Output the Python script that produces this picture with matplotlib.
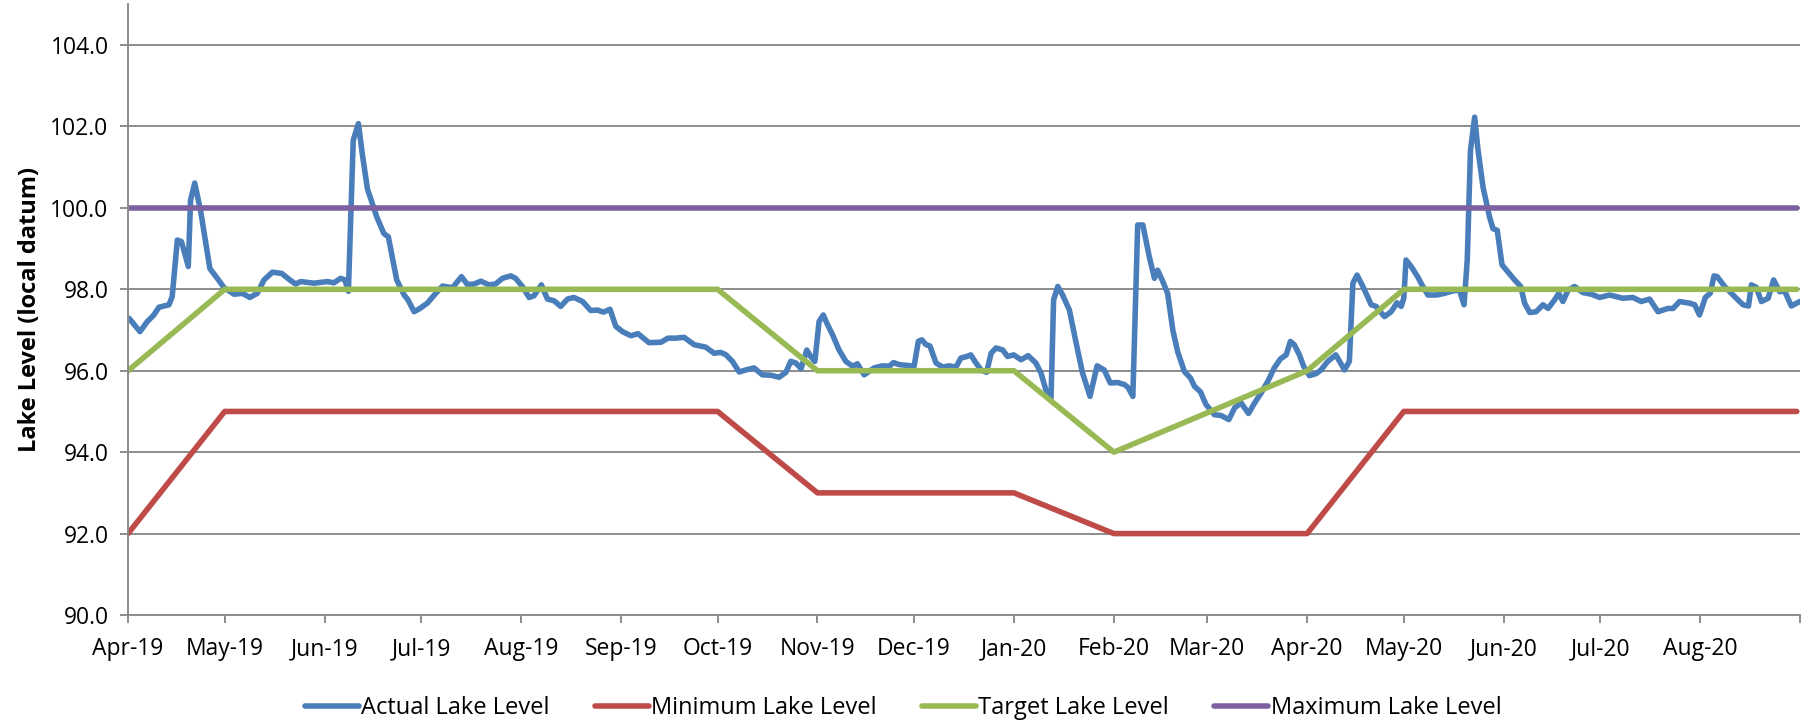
import matplotlib
matplotlib.use("Agg")
import matplotlib.pyplot as plt
import numpy as np
import pandas as pd

# ---- data ----
start = pd.Timestamp("2019-04-01")

# actual level: day offset from 1 Apr 2019, level
actual_day = [
    0.3, 3.7, 6.0, 8.0, 9.6, 12.7, 13.7, 15.3, 16.6, 18.7, 19.4, 20.7, 22.5, 25.4, 27.7, 29.8,
    32.9, 35.5, 37.8, 40.1, 42.2, 44.8, 47.7, 49.9, 52.0, 53.6, 57.7, 61.9, 63.9, 66.0, 67.3,
    68.4, 69.9, 71.5, 72.7, 74.3, 77.2, 79.4, 80.8, 83.4, 85.7, 86.9, 88.8, 90.6,
    92.9, 95.5, 97.6, 100.7, 103.5, 105.3, 107.4, 109.5, 112.0, 114.1, 116.2, 118.8, 120.3,
    122.4, 124.5, 126.0, 128.3, 130.2, 132.2, 134.3, 136.4, 138.4, 141.1, 143.6, 145.7, 147.6,
    149.6, 151.4, 153.5, 156.1, 158.3, 161.7, 165.4, 167.6, 170.0, 172.6, 175.7, 179.3, 181.9, 184.0,
    185.6, 187.6, 189.7, 191.8, 194.3, 196.9, 199.5, 202.1, 204.2, 205.7, 207.3, 208.9, 210.7,
    211.9, 213.2, 214.5, 215.8, 216.9, 218.7, 220.7, 222.8, 224.9, 226.4, 228.5, 231.6, 234.2,
    236.3, 237.6, 239.4, 242.0, 244.0, 245.3, 246.4, 247.7, 248.9, 250.8, 252.9, 254.9, 257.0,
    258.5, 260.4, 261.6, 263.2, 264.8, 266.5, 267.9, 269.4, 271.5, 273.0, 274.9, 277.2,
    279.4, 281.8, 283.4, 284.9, 286.5, 287.3, 288.6, 290.1, 292.2, 294.3, 296.3, 298.6, 300.8,
    303.0, 304.9, 307.2, 309.3, 310.5, 311.9, 313.4, 315.0, 317.0, 318.6, 319.6, 321.2, 322.7,
    324.3, 325.8, 327.9, 329.8, 331.0, 332.9, 334.6, 337.2, 339.3, 341.7, 343.5, 345.5, 347.8,
    349.7, 351.7, 353.8, 355.8, 357.7, 359.5, 360.8, 362.0, 363.6, 364.9, 366.7, 368.8, 370.3,
    372.4, 374.9, 377.6, 379.1, 380.2, 381.5, 383.3, 385.9, 387.4, 390.0, 392.1, 393.9, 395.2,
    396.0, 396.7, 398.3, 400.3, 401.9, 403.5, 406.1, 408.6, 411.2, 413.3, 414.7, 415.7, 416.7,
    418.0, 419.0, 420.6, 422.6, 423.7, 425.0, 426.5, 428.3, 430.4, 432.3, 433.5, 435.1, 437.1,
    439.2, 440.8, 442.8, 444.1, 445.4,
    447.0, 449.0, 451.6, 454.2, 456.8, 459.9, 464.0, 467.1, 469.7, 472.3, 474.9, 478.0, 479.6,
    481.6, 484.7, 486.3, 487.8, 489.6, 491.1, 492.3, 493.3, 495.6, 498.7, 501.3, 503.0, 503.9,
    505.4, 507.0, 509.1, 510.8, 512.7, 514.2, 516.3, 518.9,
]
actual_level = [
    97.29, 96.96, 97.21, 97.37, 97.56, 97.62, 97.82, 99.21, 99.17, 98.56, 100.19, 100.61, 99.94,
    98.51, 98.27, 98.04, 97.88, 97.90, 97.80, 97.90, 98.23, 98.42, 98.39, 98.25, 98.13, 98.19,
    98.15, 98.19, 98.16, 98.27, 98.23, 97.95, 101.66, 102.07, 101.33, 100.47, 99.78, 99.37, 99.29,
    98.23, 97.86, 97.74, 97.45, 97.53,
    97.66, 97.90, 98.08, 98.04, 98.31, 98.12, 98.13, 98.20, 98.11, 98.13, 98.27, 98.33, 98.27,
    98.07, 97.80, 97.84, 98.11, 97.76, 97.72, 97.58, 97.76, 97.80, 97.70, 97.48, 97.49, 97.44,
    97.51, 97.09, 96.96, 96.86, 96.91, 96.69, 96.70, 96.80, 96.80, 96.82, 96.64, 96.58, 96.43, 96.45,
    96.39, 96.23, 95.97, 96.02, 96.07, 95.90, 95.89, 95.84, 95.96, 96.23, 96.19, 96.05, 96.51,
    96.35, 96.23, 97.21, 97.37, 97.17, 96.88, 96.51, 96.23, 96.11, 96.17, 95.90, 96.07, 96.12,
    96.11, 96.20, 96.15, 96.13, 96.11, 96.72, 96.76, 96.64, 96.61, 96.19, 96.09, 96.12, 96.09,
    96.31, 96.35, 96.39, 96.19, 96.02, 95.96, 96.43, 96.56, 96.51, 96.35, 96.39, 96.27,
    96.37, 96.19, 95.94, 95.53, 95.33, 97.74, 98.07, 97.86, 97.49, 96.68, 95.94, 95.37, 96.12,
    96.02, 95.70, 95.71, 95.66, 95.58, 95.37, 99.58, 99.58, 98.80, 98.27, 98.47, 98.19, 97.90,
    97.00, 96.47, 95.98, 95.82, 95.62, 95.48, 95.17, 94.92, 94.90, 94.80, 95.09, 95.21, 94.95,
    95.21, 95.45, 95.74, 96.07, 96.29, 96.39, 96.72, 96.64, 96.39, 96.11, 95.88, 95.93, 96.02,
    96.23, 96.39, 96.02, 96.23, 98.15, 98.35, 98.07, 97.62, 97.58, 97.33, 97.45, 97.67, 97.58,
    97.78, 98.72, 98.56, 98.31, 98.07, 97.86, 97.86, 97.90, 97.96, 97.98, 97.62, 98.72, 101.41,
    102.23, 101.45, 100.51, 99.78, 99.49, 99.45, 98.60, 98.43, 98.23, 98.07, 97.66, 97.43, 97.45,
    97.62, 97.53, 97.74, 97.90, 97.70,
    97.98, 98.07, 97.92, 97.88, 97.80, 97.86, 97.78, 97.80, 97.70, 97.76, 97.45, 97.53, 97.53,
    97.70, 97.66, 97.62, 97.37, 97.80, 97.90, 98.33, 98.31, 98.07, 97.82, 97.62, 97.59, 98.11,
    98.05, 97.70, 97.78, 98.23, 97.94, 97.96, 97.59, 97.70,
]

rule_dates = ["2019-04-01", "2019-05-01", "2019-10-01", "2019-11-01", "2020-01-01",
              "2020-02-01", "2020-04-01", "2020-05-01", "2020-08-31"]
minimum_level = [92, 95, 95, 93, 93, 92, 92, 95, 95]
target_level = [96, 98, 98, 96, 96, 94, 96, 98, 98]
maximum_dates = ["2019-04-01", "2020-08-31"]
maximum_level = [100, 100]

series_names = ["Actual Lake Level", "Minimum Lake Level", "Target Lake Level", "Maximum Lake Level"]
colors = ["#4A7EBB", "#BE4B48", "#98B954", "#7D60A0"]

# ---- plot ----
plt.rcParams['font.family'] = ['Open Sans', 'DejaVu Sans']

fig = plt.figure(figsize=(18.06, 7.22), dpi=100)
ax = fig.add_axes([0.0709, 0.1482, 0.9258, 0.8458])

actual_x = start + pd.to_timedelta(np.array(actual_day), unit="D")
rule_x = pd.to_datetime(rule_dates)
max_x = pd.to_datetime(maximum_dates)

lw = 4.0
ax.plot(actual_x, actual_level, color=colors[0], lw=lw, solid_capstyle='round',
        solid_joinstyle='round', label=series_names[0])
ax.plot(rule_x, minimum_level, color=colors[1], lw=lw, solid_capstyle='round', label=series_names[1])
ax.plot(rule_x, target_level, color=colors[2], lw=lw, solid_capstyle='round', label=series_names[2])
ax.plot(max_x, maximum_level, color=colors[3], lw=lw, solid_capstyle='round', label=series_names[3])

ax.set_ylim(90, 105)
ax.set_yticks(np.arange(90, 105, 2))
ax.set_yticklabels([f"{v:.1f}" for v in np.arange(90, 105, 2)])

month_ticks = pd.date_range("2019-04-01", "2020-09-01", freq="MS")
ax.set_xlim(month_ticks[0], month_ticks[-1])
ax.set_xticks(month_ticks)
ax.set_xticklabels([d.strftime("%b-%y") for d in month_ticks[:-1]] + [""])

ax.grid(axis='y', color='#8C8C8C', lw=1.4)
ax.set_axisbelow(True)
for s in ['top', 'right']:
    ax.spines[s].set_visible(False)
for s in ['left', 'bottom']:
    ax.spines[s].set_color('#8C8C8C')
    ax.spines[s].set_linewidth(1.4)
ax.tick_params(axis='both', colors='#8C8C8C', length=6, width=1.4, labelcolor='black',
               labelsize=16.5)
ax.tick_params(axis='y', pad=8)
ax.tick_params(axis='x', pad=10)

ax.set_ylabel("Lake Level (local datum)", fontsize=17, fontweight='bold', labelpad=6)

fig.legend(loc='center', bbox_to_anchor=(0.5, 0.019), ncol=4, frameon=False, fontsize=17,
           handlelength=2.3, handletextpad=0.1, columnspacing=1.9)

fig.savefig("out.png", dpi=100, facecolor='white')
